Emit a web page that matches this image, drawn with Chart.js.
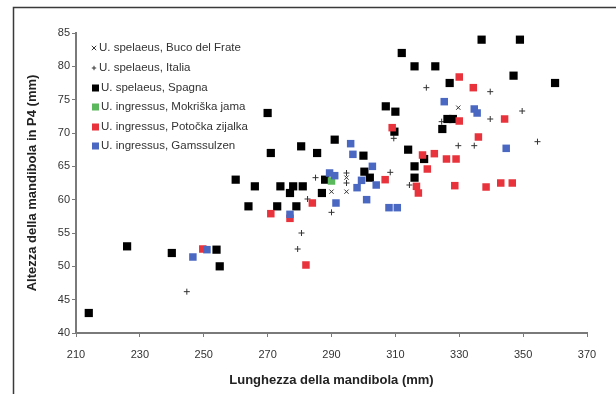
<!DOCTYPE html>
<html>
<head>
<meta charset="utf-8">
<script src="https://cdn.jsdelivr.net/npm/chart.js@4.4.1/dist/chart.umd.min.js"></script>
<style>
html,body{margin:0;padding:0;background:#fff;}
#wrap{position:relative;width:616px;height:394px;}
canvas{display:block;}
</style>
</head>
<body>
<div id="wrap"><canvas id="c" width="616" height="394"></canvas></div>
<script>
// ---- data (x = Lunghezza, y = Altezza) ----
const seriesNames = [
  "U. spelaeus, Buco del Frate",
  "U. spelaeus, Italia",
  "U. spelaeus, Spagna",
  "U. ingressus, Mokriška jama",
  "U. ingressus, Potočka zijalka",
  "U. ingressus, Gamssulzen"
];
const bucoDelFrate = [[290,61.2],[294.7,61.2],[294.7,63.3],[329.7,73.8]];
const italia = [[244.7,46.2],[279.4,52.6],[280.6,55],[282.5,60.1],[285,63.3],[290,58.1],[294.7,64],[294.7,62.5],
  [308.4,64.1],[309.5,69.2],[314.4,62.2],[319.7,76.8],[324.5,71.7],[329.7,68.1],[334.7,68.1],[339.7,76.2],
  [339.7,72.1],[349.7,73.3],[354.5,68.7],[318.5,66.3]];
const spagna = [[214,43],[226,53],[240,52],[254,52.5],[255,50],[260,63],[264,59],[266,62],[273,59],[274,62],
  [277,61],[278,62],[279,59],[281,62],[287,61],[288,63],[270,73],[271,67],[280.5,68],[285.5,67],[291,69],
  [300,66.6],[300.3,64.2],[302,63.3],[307,74],[310,73.2],[309.7,70.2],[312,82],[316,80],[322.5,80],
  [314,67.5],[316,65],[316,63.3],[319,66.1],[324.7,70.6],[326.3,72.1],[328,72.1],[327,77.5],[337,84],
  [349,84],[347,78.6],[360,77.5]];
const mokriska = [[290,62.8]];
const potocka = [[249.7,52.6],[271,57.9],[277,57.2],[282,50.2],[284,59.5],[306.8,63],[309,70.8],[316.6,62],
  [317.2,61],[318.5,66.7],[320,64.6],[322.2,66.9],[326,66.1],[329,66.1],[330,71.8],[330,78.4],[334.4,76.8],
  [336,69.4],[344.2,72.1],[328.6,62.1],[338.4,61.9],[343,62.5],[346.6,62.5]];
const gamssulzen = [[246.6,51.4],[251,52.5],[277,57.8],[289.4,64],[291,63.6],[291.4,59.5],[296,68.4],
  [296.7,66.8],[298,61.8],[299.4,62.9],[301,60],[302.8,65],[304,62.2],[308,58.8],[310.6,58.8],[325.3,74.7],
  [334.7,73.6],[335.6,73],[344.7,67.7]];
const xTicks = [210,230,250,270,290,310,330,350,370];
const yTicks = [40,45,50,55,60,65,70,75,80,85];

const allData = [bucoDelFrate, italia, spagna, mokriska, potocka, gamssulzen];
const styles = [
  {pointStyle:'crossRot', color:'#333333', radius:3, bw:1},
  {pointStyle:'cross', color:'#333333', radius:3, bw:1},
  {pointStyle:'rect', color:'#000000', radius:5.8, bw:0},
  {pointStyle:'rect', color:'#5cb85c', radius:5.3, bw:0},
  {pointStyle:'rect', color:'#e8333c', radius:5.3, bw:0},
  {pointStyle:'rect', color:'#4a68c2', radius:5.3, bw:0}
];

const datasets = allData.map((arr, i) => ({
  label: seriesNames[i],
  data: arr.map(p => ({x:p[0], y:p[1]})),
  pointStyle: styles[i].pointStyle,
  pointRadius: styles[i].radius,
  pointHoverRadius: styles[i].radius,
  backgroundColor: styles[i].color,
  borderColor: styles[i].color,
  pointBorderWidth: styles[i].bw,
  order: allData.length - i
}));

Chart.defaults.font.family = "'Liberation Sans', Arial, sans-serif";
Chart.defaults.color = '#333';

const frameAndLegend = {
  id: 'frameAndLegend',
  afterDraw(chart) {
    const ctx = chart.ctx;
    ctx.save();
    // outer frame
    ctx.strokeStyle = '#3a3a3a';
    ctx.lineWidth = 1.5;
    ctx.beginPath();
    ctx.moveTo(13.5, 394);
    ctx.lineTo(13.5, 7.5);
    ctx.lineTo(616, 7.5);
    ctx.stroke();
    // legend
    const rows = [48, 68, 88, 107, 127, 146];
    ctx.font = "11.5px 'Liberation Sans', Arial, sans-serif";
    ctx.textBaseline = 'middle';
    ctx.textAlign = 'left';
    seriesNames.forEach((name, i) => {
      const st = styles[i];
      const y = rows[i];
      ctx.beginPath();
      if (st.pointStyle === 'rect') {
        ctx.fillStyle = st.color;
        ctx.fillRect(92, y - 3.5, 7, 7);
      } else {
        ctx.strokeStyle = st.color;
        ctx.lineWidth = 1;
        const r = 2.2;
        if (st.pointStyle === 'cross') {
          ctx.moveTo(94 - r, y); ctx.lineTo(94 + r, y);
          ctx.moveTo(94, y - r); ctx.lineTo(94, y + r);
        } else {
          ctx.moveTo(94 - r, y - r); ctx.lineTo(94 + r, y + r);
          ctx.moveTo(94 - r, y + r); ctx.lineTo(94 + r, y - r);
        }
        ctx.stroke();
      }
      ctx.fillStyle = '#333';
      ctx.fillText(name, i < 2 ? 99 : 101, y);
    });
    ctx.restore();
  }
};

new Chart(document.getElementById('c'), {
  type: 'scatter',
  data: { datasets },
  options: {
    responsive: false,
    animation: false,
    events: [],
    layout: { padding: { left: 0, right: 29, top: 33, bottom: 0 } },
    plugins: { legend: { display: false }, tooltip: { enabled: false } },
    scales: {
      x: {
        type: 'linear', min: 210, max: 370,
        afterBuildTicks(s) { s.ticks = xTicks.map(v => ({value: v})); },
        afterFit(s) { s.height = 61; },
        border: { color: '#7a7a7a', width: 2 },
        grid: { drawOnChartArea: false, color: '#7a7a7a', tickLength: 4, lineWidth: 1 },
        ticks: { padding: 11, color: '#333', font: { size: 11 }, maxRotation: 0 },
        title: { display: true, text: 'Lunghezza della mandibola (mm)', color: '#222',
                 font: { size: 13, weight: 'bold' }, padding: { top: 0, bottom: 6 } }
      },
      y: {
        type: 'linear', min: 40, max: 85,
        afterBuildTicks(s) { s.ticks = yTicks.map(v => ({value: v})); },
        afterFit(s) { s.width = 76; },
        border: { color: '#7a7a7a', width: 2 },
        grid: { drawOnChartArea: false, color: '#7a7a7a', tickLength: 4, lineWidth: 1 },
        ticks: { padding: 2, color: '#333', font: { size: 11 } },
        title: { display: true, text: 'Altezza della mandibola in P4 (mm)', color: '#222',
                 font: { size: 13, weight: 'bold' }, padding: { top: 25, bottom: 0 } }
      }
    }
  },
  plugins: [frameAndLegend]
});
</script>
</body>
</html>
